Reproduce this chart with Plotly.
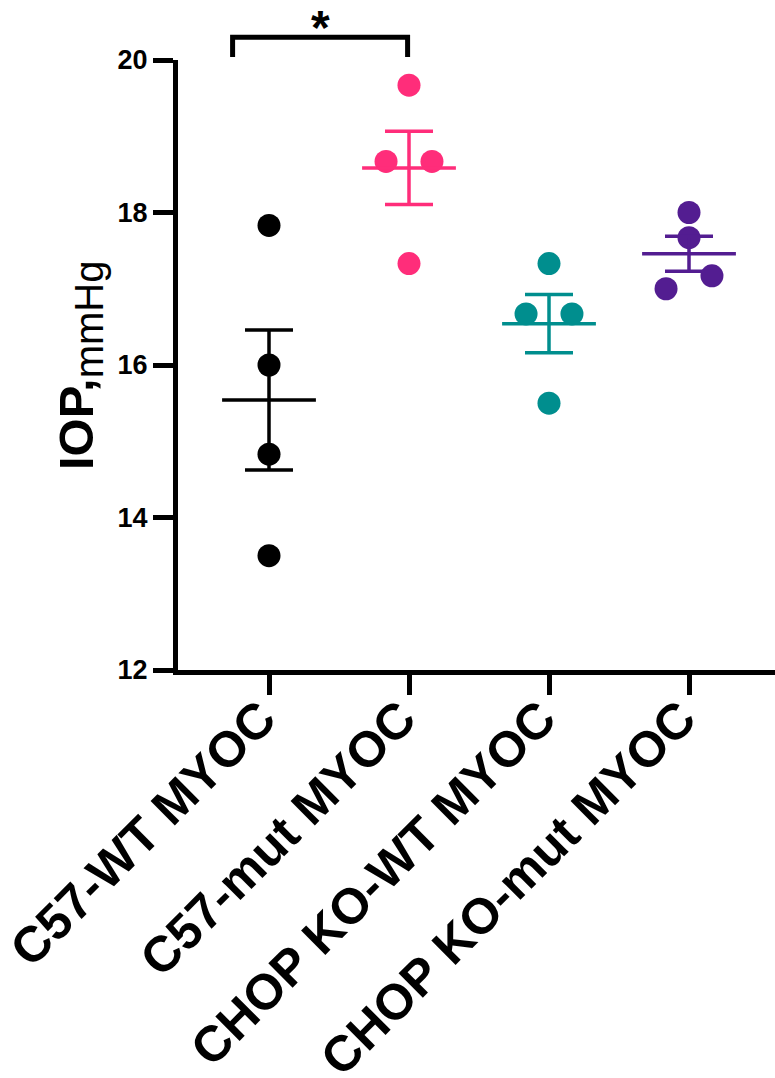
import plotly.graph_objects as go
import numpy as np

# ---- data ----
categories = ["C57-WT MYOC", "C57-mut MYOC", "CHOP KO-WT MYOC", "CHOP KO-mut MYOC"]
c57_wt = [17.83, 16.00, 14.83, 13.50]
c57_mut = [19.67, 18.67, 18.67, 17.33]
chop_wt = [17.33, 16.67, 16.67, 15.50]
chop_mut = [18.00, 17.67, 17.00, 17.17]
y_ticks = [12, 14, 16, 18, 20]
sig_label = "*"
sig_pair = (0, 1)

# ---- style / positions ----
groups = [c57_wt, c57_mut, chop_wt, chop_mut]
colors = ["#000000", "#FF2D7A", "#008E8E", "#531D91"]
jitter = [[0, 0, 0, 0], [0, -0.164, 0.164, 0], [0, -0.164, 0.164, 0], [0, 0, -0.164, 0.164]]
FONT = "Liberation Sans, Arial, Helvetica, sans-serif"
W, H = 775, 1078
ML, MR, MT, MB = 178, 0, 60, 408
CAT_PX = 140.0
x0 = -0.65
x1 = x0 + (W - ML - MR) / CAT_PX
y0, y1 = 12, 20
MEAN_HALF = 0.335

fig = go.Figure()
for i, (vals, col) in enumerate(zip(groups, colors)):
    v = np.array(vals, dtype=float)
    m = v.mean()
    sem = v.std(ddof=1) / np.sqrt(len(v))
    fig.add_trace(go.Scatter(
        x=[i + d for d in jitter[i]], y=vals, mode="markers",
        marker=dict(size=23, color=col, line=dict(width=0)),
        showlegend=False, hoverinfo="y"))
    fig.add_trace(go.Scatter(
        x=[i - MEAN_HALF, i + MEAN_HALF], y=[m, m], mode="lines",
        line=dict(color=col, width=3.5), showlegend=False, hoverinfo="skip"))
    fig.add_trace(go.Scatter(
        x=[i], y=[m], mode="markers", marker=dict(size=0, color=col, opacity=0),
        error_y=dict(type="data", array=[sem], symmetric=True, color=col,
                     thickness=3.5, width=24),
        showlegend=False, hoverinfo="skip"))

# significance bracket (paper coords derived from axis ranges)
def px(xv):
    return (xv - x0) / (x1 - x0)

def py(yv):
    return (yv - y0) / (y1 - y0)

b_left = sig_pair[0] - 0.26
b_right = sig_pair[1] - 0.01
b_top = py(20.30)
b_bot = py(20.04)
fig.add_shape(type="path",
              path=f"M {px(b_left)} {b_bot} L {px(b_left)} {b_top} L {px(b_right)} {b_top} L {px(b_right)} {b_bot}",
              xref="paper", yref="paper", line=dict(color="black", width=5))
fig.add_annotation(text=f"<b>{sig_label}</b>", x=px((b_left + b_right) / 2), y=b_top,
                   xref="paper", yref="paper", xanchor="center", yanchor="middle",
                   yshift=10, showarrow=False, font=dict(size=48, color="black", family=FONT))

# y title
fig.add_annotation(text="<b>IOP,</b><sub><span style='font-size:40px'>mmHg</span></sub>", textangle=-90,
                   x=(80 - ML) / (W - ML - MR), y=0.5, xref="paper", yref="paper",
                   xanchor="center", yanchor="middle", showarrow=False,
                   font=dict(size=49, color="black", family=FONT))

fig.update_layout(
    width=W, height=H, margin=dict(l=ML, r=MR, t=MT, b=MB, autoexpand=False),
    paper_bgcolor="white", plot_bgcolor="white", showlegend=False,
    font=dict(family=FONT, color="black"),
    xaxis=dict(range=[x0, x1], tickvals=list(range(len(categories))),
               ticktext=[f"<b>{c}</b>" for c in categories], tickangle=-45,
               tickfont=dict(size=50, family=FONT, color="black"),
               ticklabelstandoff=-26, ticklabelshift=-8, automargin=False,
               ticklabeloverflow="allow",
               showline=True, linewidth=5, linecolor="black",
               ticks="outside", ticklen=20, tickwidth=5, tickcolor="black",
               showgrid=False, zeroline=False),
    yaxis=dict(range=[y0, y1], tickvals=y_ticks,
               ticktext=[f"<b>{t}</b>" for t in y_ticks], automargin=False,
               tickfont=dict(size=27, family=FONT, color="black"),
               showline=True, linewidth=5, linecolor="black",
               ticks="outside", ticklen=20, tickwidth=5, tickcolor="black",
               showgrid=False, zeroline=False),
)
fig.write_html("out.html", config={"displayModeBar": False},
               post_script="document.body.style.margin='0';document.body.style.overflow='hidden';")
